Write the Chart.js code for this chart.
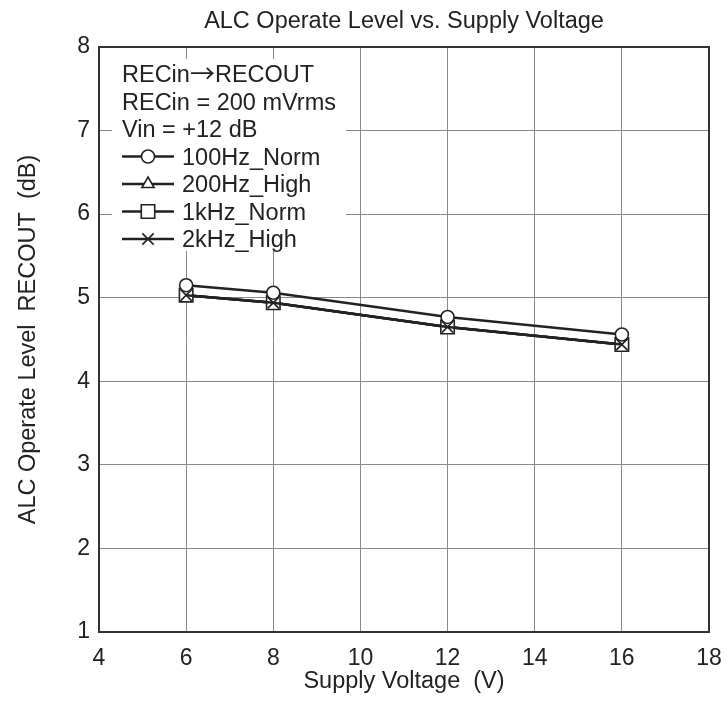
<!DOCTYPE html>
<html>
<head>
<meta charset="utf-8">
<script src="https://cdn.jsdelivr.net/npm/chart.js@4/dist/chart.umd.min.js"></script>
<style>
  html, body { margin: 0; padding: 0; background: #fff; }
  #wrap { width: 727px; height: 704px; }
</style>
</head>
<body>
<div id="wrap"><canvas id="c" width="727" height="704"></canvas></div>
<script>
// ---- data ----
const supplyVoltage = [6, 8, 12, 16];
const hz100Norm = [5.15, 5.06, 4.77, 4.56];
const hz200High = [5.03, 4.94, 4.65, 4.44];
const khz1Norm  = [5.03, 4.94, 4.65, 4.44];
const khz2High  = [5.03, 4.94, 4.65, 4.44];
const seriesLabels = ['100Hz_Norm', '200Hz_High', '1kHz_Norm', '2kHz_High'];
const noteLines = ['RECin\u2192RECOUT', 'RECin = 200 mVrms', 'Vin = +12 dB'];
const xTicks = [4, 6, 8, 10, 12, 14, 16, 18];
const yTicks = [1, 2, 3, 4, 5, 6, 7, 8];
const chartTitle = 'ALC Operate Level vs. Supply Voltage';
const xTitle = 'Supply Voltage  (V)';
const yTitle = 'ALC Operate Level  RECOUT  (dB)';

const FONT = "'Liberation Sans', Arial, Helvetica, sans-serif";
const INK = '#222222';
const TXT = 23.5;

function pts(arr) { return supplyVoltage.map((x, i) => ({ x: x, y: arr[i] })); }

const styles = [
  { pointStyle: 'circle',   radius: 6.5 },
  { pointStyle: 'triangle', radius: 7 },
  { pointStyle: 'rect',     radius: 9.5 },
  { pointStyle: 'crossRot', radius: 8 }
];
const seriesData = [hz100Norm, hz200High, khz1Norm, khz2High];

const datasets = seriesData.map((d, i) => ({
  label: seriesLabels[i],
  data: pts(d),
  borderColor: INK,
  backgroundColor: '#ffffff',
  borderWidth: 2.5,
  pointStyle: styles[i].pointStyle,
  pointRadius: styles[i].radius,
  pointBorderWidth: 1.6,
  pointBorderColor: INK,
  pointBackgroundColor: '#ffffff',
  tension: 0,
  fill: false,
  order: i === 0 ? 0 : 4 - i
}));

function drawMarker(ctx, style, r, x, y) {
  const H = Chart.helpers;
  if (H && H.drawPoint) {
    H.drawPoint(ctx, { pointStyle: style, radius: r, rotation: 0, borderWidth: 1.6 }, x, y);
  }
}

// draw text, rendering the arrow glyph with a font that has a long thin arrow
function drawNote(ctx, text, x, y) {
  const parts = text.split('\u2192');
  let cx = x;
  parts.forEach((p, i) => {
    ctx.font = TXT + 'px ' + FONT;
    ctx.fillText(p, cx, y);
    cx += ctx.measureText(p).width;
    if (i < parts.length - 1) {
      ctx.font = "25px 'Noto Sans CJK JP', 'DejaVu Sans', sans-serif";
      ctx.fillText('\u2192', cx, y + 1);
      cx += ctx.measureText('\u2192').width;
    }
  });
  ctx.font = TXT + 'px ' + FONT;
}

const framePlugin = {
  id: 'frame',
  beforeDatasetsDraw(chart) {
    const { ctx, chartArea: a } = chart;
    ctx.save();
    ctx.strokeStyle = '#333333';
    ctx.lineWidth = 2;
    ctx.strokeRect(a.left, a.top, a.right - a.left, a.bottom - a.top);
    ctx.restore();
  }
};

const notePlugin = {
  id: 'noteLegend',
  afterDatasetsDraw(chart) {
    const { ctx } = chart;
    ctx.save();
    ctx.fillStyle = '#ffffff';
    ctx.fillRect(112, 59, 234, 192);
    ctx.fillStyle = INK;
    ctx.font = TXT + 'px ' + FONT;
    ctx.textAlign = 'left';
    ctx.textBaseline = 'alphabetic';
    const x0 = 122, base0 = 82, step = 27.5;
    noteLines.forEach((t, i) => drawNote(ctx, t, x0, base0 + i * step));
    chart.data.datasets.forEach((ds, i) => {
      const by = base0 + (noteLines.length + i) * step;
      const cy = by - 8;
      ctx.strokeStyle = INK;
      ctx.lineWidth = 2.5;
      ctx.beginPath();
      ctx.moveTo(x0, cy);
      ctx.lineTo(174, cy);
      ctx.stroke();
      ctx.fillStyle = '#ffffff';
      ctx.strokeStyle = INK;
      ctx.lineWidth = 1.6;
      drawMarker(ctx, ds.pointStyle, ds.pointRadius, 148, cy);
      ctx.fillStyle = INK;
      ctx.font = TXT + 'px ' + FONT;
      ctx.fillText(ds.label, 182, by);
    });
    ctx.restore();
  }
};

new Chart(document.getElementById('c'), {
  type: 'line',
  data: { datasets: datasets },
  plugins: [framePlugin, notePlugin],
  options: {
    responsive: false,
    animation: false,
    devicePixelRatio: 1,
    layout: { padding: { left: 0, right: 18, top: 0, bottom: 0 } },
    plugins: {
      legend: { display: false },
      tooltip: { enabled: false },
      title: {
        display: true,
        fullSize: false,
        text: chartTitle,
        color: INK,
        font: { family: FONT, size: TXT, weight: 'normal', lineHeight: 1.2 },
        padding: { top: 7.2, bottom: 11.6 },
        align: 'center'
      }
    },
    scales: {
      x: {
        type: 'linear',
        min: 4, max: 18,
        afterBuildTicks(scale) { scale.ticks = xTicks.map(v => ({ value: v })); },
        afterFit(scale) { scale.height = 72; scale.paddingRight = 0; scale.paddingLeft = 0; },
        ticks: { color: INK, font: { family: FONT, size: 23 }, padding: 12.5, maxRotation: 0 },
        grid: {
          drawTicks: false,
          color: (c) => (c.tick && (c.tick.value === 4 || c.tick.value === 18)) ? 'rgba(0,0,0,0)' : '#888888',
          lineWidth: 1
        },
        border: { display: false },
        title: {
          display: true, text: xTitle, color: INK,
          font: { family: FONT, size: TXT, lineHeight: 1.2 },
          padding: { top: 0, bottom: 7.9 }
        }
      },
      y: {
        type: 'linear',
        min: 1, max: 8,
        afterBuildTicks(scale) { scale.ticks = yTicks.map(v => ({ value: v })); },
        afterFit(scale) { scale.width = 99; },
        ticks: { color: INK, font: { family: FONT, size: 23 }, padding: 9 },
        grid: {
          drawTicks: false,
          color: (c) => (c.tick && (c.tick.value === 1 || c.tick.value === 8)) ? 'rgba(0,0,0,0)' : '#888888',
          lineWidth: 1
        },
        border: { display: false },
        title: {
          display: true, text: yTitle, color: INK,
          font: { family: FONT, size: TXT, lineHeight: 1.2 },
          padding: { top: 14, bottom: 0 }
        }
      }
    }
  }
});
</script>
</body>
</html>
